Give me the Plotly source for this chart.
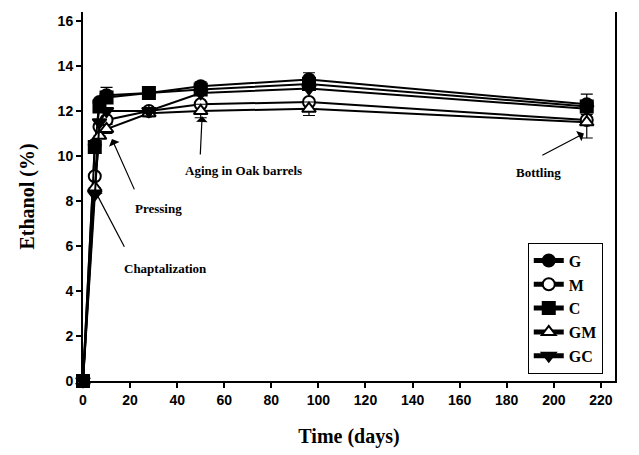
import plotly.graph_objects as go

days = [0, 5, 7, 10, 28, 50, 96, 214]
G  = [0, 10.5, 12.4, 12.7, 12.8, 13.1, 13.4, 12.3]
M  = [0, 9.1, 11.3, 11.6, 12.0, 12.3, 12.4, 11.6]
C  = [0, 10.4, 12.2, 12.6, 12.8, 12.95, 13.2, 12.2]
GM = [0, 8.6, 10.9, 11.2, 11.9, 12.0, 12.1, 11.5]
GC = [0, 8.3, 11.5, 12.0, 12.0, 12.8, 13.0, 12.1]
G_err  = [0, 0, 0, 0.35, 0.15, 0.2, 0.3, 0.45]
GM_err = [0, 0, 0, 0.2, 0.15, 0.3, 0.3, 0.7]
x_ticks = list(range(0, 221, 20))
y_ticks = list(range(0, 17, 2))

series = [
    ("G", G, "circle", "black", G_err),
    ("M", M, "circle", "white", None),
    ("C", C, "square", "black", None),
    ("GM", GM, "triangle-up", "white", GM_err),
    ("GC", GC, "triangle-down", "black", None),
]

fig = go.Figure()
for name, vals, sym, fill, err in series:
    kw = {}
    if err is not None:
        kw["error_y"] = dict(type="data", array=err, visible=True,
                             color="black", thickness=1.2, width=6)
    fig.add_trace(go.Scatter(
        x=days, y=vals, name=name, mode="lines+markers", cliponaxis=False,
        line=dict(color="black", width=2),
        marker=dict(symbol=sym, size=12, color=fill,
                    line=dict(color="black", width=2)),
        **kw))

ann_font = dict(family="Liberation Serif", size=13, color="black")
arrows = [
    (5.1, 8.45, 17.9, 5.9),
    (12.3, 10.75, 22.1, 8.45),
    (50.6, 11.77, 49.8, 10.0),
    (212.8, 11.0, 194.5, 10.0),
]
for hx, hy, tx, ty in arrows:
    fig.add_annotation(x=hx, y=hy, ax=tx, ay=ty, xref="x", yref="y",
                       axref="x", ayref="y", showarrow=True, text="",
                       arrowhead=1, arrowsize=1.6, arrowwidth=1.2,
                       arrowcolor="black")
labels = [
    ("Chaptalization", 34.9, 5.0),
    ("Pressing", 31.9, 7.65),
    ("Aging in Oak barrels", 68.1, 9.34),
    ("Bottling", 193.6, 9.25),
]
for t, x, y in labels:
    fig.add_annotation(x=x, y=y, xref="x", yref="y", text="<b>%s</b>" % t,
                       showarrow=False, font=ann_font)

tickfont = dict(family="Liberation Sans", size=14, color="black")
fig.update_layout(
    width=639, height=455,
    margin=dict(l=83, r=24, t=12, b=74),
    paper_bgcolor="white", plot_bgcolor="white",
    showlegend=True,
    legend=dict(x=0.977, y=0.02, xanchor="right", yanchor="bottom",
                bordercolor="black", borderwidth=1, bgcolor="white",
                font=dict(family="Liberation Serif", size=16, color="black"),
                tracegroupgap=0, itemsizing="constant"),
    xaxis=dict(range=[0, 226], tickvals=x_ticks,
               ticktext=["<b>%d</b>" % v for v in x_ticks],
               showgrid=False, zeroline=False, showline=True,
               linecolor="black", linewidth=2, ticks="outside",
               ticklen=5, tickwidth=1.5, tickcolor="black",
               tickfont=tickfont,
               title=dict(text="<b>Time (days)</b>", standoff=22,
                          font=dict(family="Liberation Serif", size=20, color="black"))),
    yaxis=dict(range=[0, 16.4], tickvals=y_ticks,
               ticktext=["<b>%d</b>" % v for v in y_ticks],
               showgrid=False, zeroline=False, showline=True, mirror=True,
               linecolor="black", linewidth=2, ticks="outside",
               ticklen=5, tickwidth=1.5, tickcolor="black",
               tickfont=tickfont,
               title=dict(text="<b>Ethanol (%)</b>", standoff=18,
                          font=dict(family="Liberation Serif", size=20, color="black"))),
)
for tr in fig.data:
    tr.name = "<b>%s</b>" % tr.name

fig.write_html("out.html")
